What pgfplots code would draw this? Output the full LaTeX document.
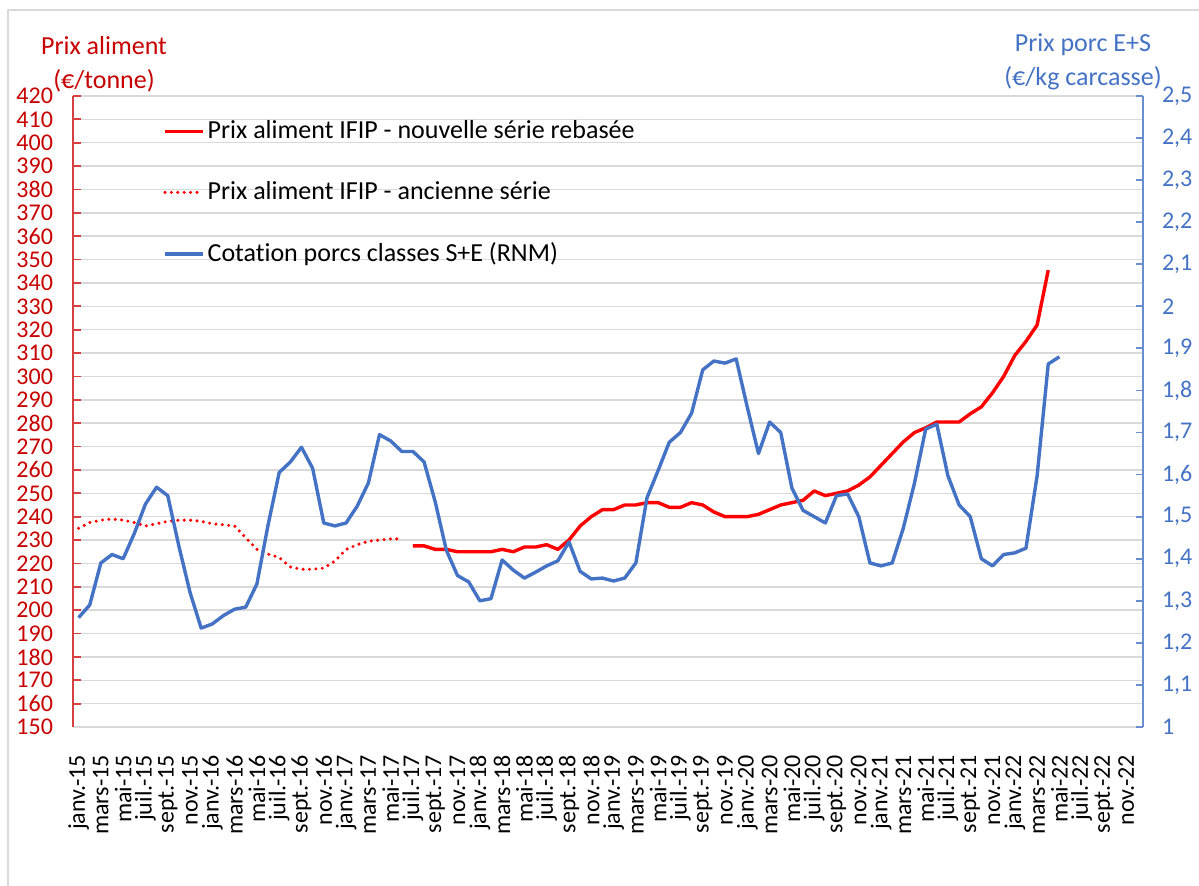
\documentclass[border=0pt]{standalone}
\usepackage{pgfplots}
\usepackage{pgfplotstable}
\pgfplotsset{compat=1.18}
\usepackage{fontspec}
\setmainfont{Carlito}[Ligatures=NoCommon]
\definecolor{dred}{RGB}{200,0,0}
\definecolor{lred}{RGB}{255,0,0}
\definecolor{xblue}{RGB}{68,114,196}
\definecolor{gridc}{RGB}{217,217,217}

\pgfplotstableread{
i v
0 235
1 237.5
2 238.5
3 239
4 238.5
5 237.5
6 236
7 237
8 238
9 238.5
10 238.5
11 238
12 237
13 236.5
14 236
15 231
16 226
17 224
18 222.5
19 218.5
20 217.5
21 217.5
22 218
23 221
24 226
25 228
26 229.5
27 230
28 230.5
29 230.5
}\oldseries

\pgfplotstableread{
i v
30 227.5
31 227.5
32 226
33 226
34 225
35 225
36 225
37 225
38 226
39 225
40 227
41 227
42 228
43 226
44 230
45 236
46 240
47 243
48 243
49 245
50 245
51 246
52 246
53 244
54 244
55 246
56 245
57 242
58 240
59 240
60 240
61 241
62 243
63 245
64 246
65 247
66 251
67 249
68 250
69 251
70 253.5
71 257
72 262
73 267
74 272
75 276
76 278
77 280.5
78 280.5
79 280.5
80 284
81 287
82 293
83 300
84 309
85 315
86 322
87 345.5
}\newseries

\pgfplotstableread{
i v
0 1.26
1 1.29
2 1.39
3 1.41
4 1.40
5 1.46
6 1.53
7 1.57
8 1.55
9 1.43
10 1.32
11 1.235
12 1.245
13 1.265
14 1.28
15 1.285
16 1.34
17 1.48
18 1.605
19 1.63
20 1.665
21 1.615
22 1.485
23 1.478
24 1.485
25 1.525
26 1.58
27 1.695
28 1.68
29 1.655
30 1.655
31 1.63
32 1.535
33 1.42
34 1.36
35 1.345
36 1.30
37 1.305
38 1.397
39 1.373
40 1.354
41 1.368
42 1.383
43 1.395
44 1.44
45 1.37
46 1.352
47 1.354
48 1.347
49 1.354
50 1.39
51 1.545
52 1.61
53 1.677
54 1.70
55 1.746
56 1.849
57 1.87
58 1.865
59 1.875
60 1.76
61 1.65
62 1.725
63 1.70
64 1.568
65 1.515
66 1.50
67 1.485
68 1.55
69 1.554
70 1.50
71 1.39
72 1.383
73 1.39
74 1.473
75 1.58
76 1.708
77 1.72
78 1.597
79 1.528
80 1.50
81 1.40
82 1.383
83 1.41
84 1.414
85 1.425
86 1.597
87 1.863
88 1.88
}\porc

\begin{document}
\begin{tikzpicture}
\useasboundingbox (-36.5bp,-79.5bp) rectangle (563bp,363.5bp);
\fill[white] (-36.5bp,-79.5bp) rectangle (563bp,363.5bp);
\draw[gridc, line width=0.75bp] (-32.5bp,-79.5bp) -- (-32.5bp,358.5bp) -- (563bp,358.5bp);

\begin{axis}[
  at={(0bp,0bp)}, anchor=south west, scale only axis,
  width=535bp, height=315.5bp,
  xmin=-0.5, xmax=95.5, ymin=150, ymax=420,
  axis y line*=left, axis x line*=bottom,
  axis line style={-},
  y axis line style={draw=dred!75, line width=0.9bp},
  x axis line style={draw=gridc, line width=0.75bp},
  ytick={150,160,...,420},
  ymajorgrids, major grid style={draw=gridc, line width=0.75bp},
  tick align=inside,
  major tick length=4bp,
  ytick style={draw=dred!75, line width=0.9bp},
  xtick style={draw=none},
  /pgf/number format/assume math mode=true,
  tick label style={font=\fontsize{12bp}{14bp}\selectfont},
  yticklabel style={text=dred, xshift=-6.5bp},
  xtick={0,2,...,94},
  xticklabels={janv.-15,mars-15,mai-15,juil.-15,sept.-15,nov.-15,
    janv.-16,mars-16,mai-16,juil.-16,sept.-16,nov.-16,
    janv.-17,mars-17,mai-17,juil.-17,sept.-17,nov.-17,
    janv.-18,mars-18,mai-18,juil.-18,sept.-18,nov.-18,
    janv.-19,mars-19,mai-19,juil.-19,sept.-19,nov.-19,
    janv.-20,mars-20,mai-20,juil.-20,sept.-20,nov.-20,
    janv.-21,mars-21,mai-21,juil.-21,sept.-21,nov.-21,
    janv.-22,mars-22,mai-22,juil.-22,sept.-22,nov.-22},
  xticklabel style={rotate=90, anchor=east},
  xticklabel shift=10.5bp,
  legend style={at={(axis description cs:0.084,0.966)}, anchor=north west,
    draw=none, fill=none, inner sep=0pt, row sep=17bp,
    font=\fontsize{13bp}{15bp}\selectfont,
    nodes={inner sep=1.5bp}},
  legend cell align=left,
  legend image code/.code={\draw[#1] (0bp,0bp) -- (19bp,0bp);},
]
\addplot[lred, line width=1.7bp, line join=round] table[x=i,y=v] {\newseries};
\addlegendentry{Prix aliment IFIP - nouvelle série rebasée}
\addplot[lred, line width=1.7bp, line cap=round, dash pattern=on 0bp off 3.2bp] table[x=i,y=v] {\oldseries};
\addlegendentry{Prix aliment IFIP - ancienne série}
\addlegendimage{xblue, line width=1.7bp}
\addlegendentry{Cotation porcs classes S+E (RNM)}
\end{axis}

\begin{axis}[
  at={(0bp,0bp)}, anchor=south west, scale only axis,
  width=535bp, height=315.5bp,
  xmin=-0.5, xmax=95.5, ymin=1, ymax=2.5,
  axis y line*=right, axis x line=none,
  axis line style={-},
  y axis line style={draw=xblue!80, line width=0.9bp},
  ytick={1,1.1,1.2,1.3,1.4,1.5,1.6,1.7,1.8,1.9,2,2.1,2.2,2.3,2.4,2.5},
  tick align=inside,
  major tick length=3.5bp,
  ytick style={draw=xblue!80, line width=0.9bp},
  /pgf/number format/assume math mode=true,
  /pgf/number format/use comma,
  /pgf/number format/fixed,
  /pgf/number format/precision=1,
  tick label style={font=\fontsize{12bp}{14bp}\selectfont},
  yticklabel style={text=xblue, xshift=6bp},
]
\addplot[xblue, line width=1.7bp, line join=round] table[x=i,y=v] {\porc};
\end{axis}

\node[align=center, text=dred, font=\fontsize{13bp}{17bp}\selectfont] at (15.5bp,331.5bp) {Prix aliment\\(€/tonne)};
\node[align=center, text=xblue, font=\fontsize{13bp}{17bp}\selectfont] at (505bp,332.5bp) {Prix porc E+S\\(€/kg carcasse)};
\end{tikzpicture}
\end{document}
